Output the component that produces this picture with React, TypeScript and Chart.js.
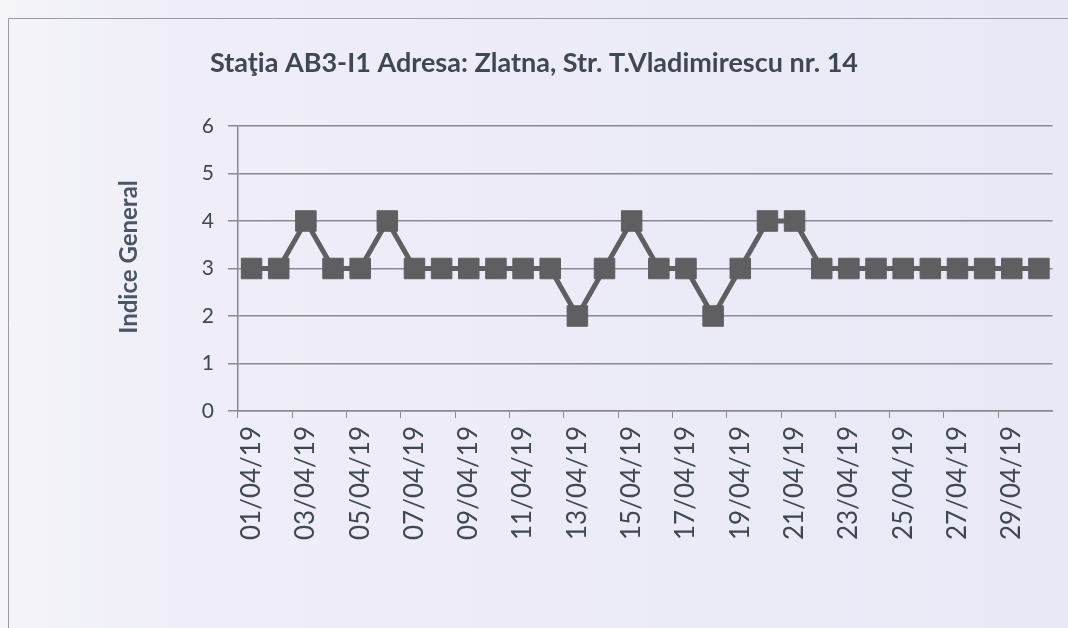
import React, { useEffect, useRef } from "react";
import { Chart, registerables } from "chart.js";

Chart.register(...registerables);

const TITLE = "Staţia AB3-I1 Adresa: Zlatna, Str. T.Vladimirescu nr. 14";
const Y_TITLE = "Indice General";

const dates = [
  "01/04/19", "02/04/19", "03/04/19", "04/04/19", "05/04/19", "06/04/19",
  "07/04/19", "08/04/19", "09/04/19", "10/04/19", "11/04/19", "12/04/19",
  "13/04/19", "14/04/19", "15/04/19", "16/04/19", "17/04/19", "18/04/19",
  "19/04/19", "20/04/19", "21/04/19", "22/04/19", "23/04/19", "24/04/19",
  "25/04/19", "26/04/19", "27/04/19", "28/04/19", "29/04/19", "30/04/19",
];

const indiceGeneral = [
  3, 3, 4, 3, 3, 4, 3, 3, 3, 3, 3, 3, 2, 3, 4,
  3, 3, 2, 3, 4, 4, 3, 3, 3, 3, 3, 3, 3, 3, 3,
];

const yTicks = [0, 1, 2, 3, 4, 5, 6];

const TEXT = "#3e4853";
const GRID = "#8a8a8e";
const LINE = "#5f5f62";

const backgroundPlugin = {
  id: "paperBg",
  beforeDraw(chart: any) {
    const { ctx, width, height } = chart;
    ctx.save();
    const g = ctx.createLinearGradient(0, 0, width, 0);
    g.addColorStop(0, "#f4f4f9");
    g.addColorStop(0.2, "#eeedf8");
    g.addColorStop(1, "#e9e8f6");
    ctx.fillStyle = g;
    ctx.fillRect(0, 0, width, height);
    ctx.strokeStyle = "#9a9aa2";
    ctx.lineWidth = 1;
    ctx.beginPath();
    ctx.moveTo(8.5, height);
    ctx.lineTo(8.5, 18.5);
    ctx.lineTo(width, 18.5);
    ctx.stroke();
    ctx.restore();
  },
};

const titlesPlugin = {
  id: "titles",
  afterDraw(chart: any) {
    const { ctx } = chart;
    ctx.save();
    ctx.fillStyle = TEXT;
    ctx.textAlign = "center";
    ctx.textBaseline = "middle";
    ctx.font = "bold 27px Lato";
    ctx.fillText(TITLE, 534, 63);
    ctx.translate(129, 257);
    ctx.rotate(-Math.PI / 2);
    ctx.fillStyle = "#4a5664";
    ctx.font = "bold 24px Lato";
    ctx.fillText(Y_TITLE, 0, 0);
    ctx.restore();
  },
};

export default function App() {
  const ref = useRef<HTMLCanvasElement | null>(null);

  useEffect(() => {
    if (!ref.current) return;
    const chart = new Chart(ref.current, {
      type: "line",
      data: {
        labels: dates,
        datasets: [
          {
            label: "Indice General",
            data: indiceGeneral,
            borderColor: LINE,
            borderWidth: 5,
            pointStyle: "rect",
            pointRadius: 14.5,
            pointHoverRadius: 14.5,
            pointBackgroundColor: LINE,
            pointBorderColor: LINE,
            pointBorderWidth: 1,
            tension: 0,
          },
        ],
      },
      options: {
        animation: false,
        responsive: false,
        layout: { padding: { left: 100, right: 10, top: 126, bottom: 0 } },
        plugins: {
          legend: { display: false },
          tooltip: { enabled: false },
          title: { display: false },
        },
        scales: {
          x: {
            type: "category",
            offset: true,
            afterFit: (s: any) => {
              s.height = 217;
              s.paddingLeft = 0;
              s.paddingRight = 0;
            },
            grid: {
              offset: true,
              drawOnChartArea: false,
              tickLength: 7,
              color: (c: any) => (c.index % 2 === 0 ? GRID : "rgba(0,0,0,0)"),
            },
            border: { display: true, color: GRID, width: 1.5 },
            ticks: {
              autoSkip: false,
              minRotation: 90,
              maxRotation: 90,
              padding: 8,
              color: TEXT,
              font: { family: "Lato", size: 26 },
              callback: (_v: any, i: number) => (i % 2 === 0 ? dates[i] : ""),
            },
          },
          y: {
            min: 0,
            max: 6,
            afterFit: (s: any) => {
              s.width = 138;
            },
            afterBuildTicks: (s: any) => {
              s.ticks = yTicks.map((v) => ({ value: v }));
            },
            grid: {
              color: GRID,
              lineWidth: 1.5,
              tickLength: 10,
            },
            border: { display: true, color: GRID, width: 1.5 },
            ticks: {
              color: TEXT,
              padding: 14,
              font: { family: "Lato", size: 21 },
            },
          },
        },
      },
      plugins: [backgroundPlugin, titlesPlugin],
    });
    return () => chart.destroy();
  }, []);

  return (
    <div style={{ position: "fixed", left: 0, top: 0, width: 1068, height: 628 }}>
      <canvas ref={ref} width={1068} height={628} style={{ display: "block" }} />
    </div>
  );
}
